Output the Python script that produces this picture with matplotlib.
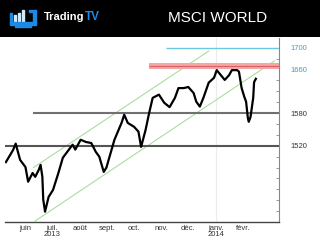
import matplotlib
matplotlib.use("Agg")
import matplotlib.pyplot as plt
from matplotlib.patches import Rectangle
import pandas as pd

# price path
dates = ["2013-05-10", "2013-05-18", "2013-05-21", "2013-05-26", "2013-06-01", "2013-06-04",
         "2013-06-09", "2013-06-12", "2013-06-16", "2013-06-18", "2013-06-20", "2013-06-21",
         "2013-06-23", "2013-06-27", "2013-07-02", "2013-07-08", "2013-07-13", "2013-07-18",
         "2013-07-24", "2013-07-27", "2013-08-02", "2013-08-08", "2013-08-14", "2013-08-19",
         "2013-08-23", "2013-08-28", "2013-08-31", "2013-09-09", "2013-09-17", "2013-09-20",
         "2013-09-24", "2013-10-01", "2013-10-06", "2013-10-09", "2013-10-14", "2013-10-18",
         "2013-10-22", "2013-10-29", "2013-11-04", "2013-11-10", "2013-11-16", "2013-11-20",
         "2013-11-26", "2013-12-01", "2013-12-07", "2013-12-10", "2013-12-14", "2013-12-18",
         "2013-12-24", "2013-12-30", "2014-01-02", "2014-01-08", "2014-01-11", "2014-01-16",
         "2014-01-19", "2014-01-25", "2014-01-27", "2014-01-30", "2014-02-02", "2014-02-04",
         "2014-02-06", "2014-02-07", "2014-02-09", "2014-02-12", "2014-02-13", "2014-02-15"]
closes = [1490, 1512, 1524, 1494, 1481, 1454,
          1470, 1463, 1476, 1485, 1463, 1421,
          1399, 1426, 1439, 1470, 1498, 1509,
          1522, 1513, 1531, 1527, 1525, 1509,
          1500, 1472, 1480, 1531, 1562, 1577,
          1562, 1555, 1546, 1518, 1549, 1580,
          1608, 1614, 1599, 1591, 1608, 1626,
          1626, 1628, 1617, 1601, 1592, 1608,
          1636, 1645, 1659, 1647, 1641, 1650,
          1659, 1659, 1656, 1626, 1610, 1601,
          1571, 1564, 1573, 1608, 1637, 1643]

# trend channel (two parallel green lines)
upper_dates = ["2013-06-10", "2013-12-24"]
upper_values = [1480, 1694]
lower_dates = ["2013-06-12", "2014-03-08"]
lower_values = [1382, 1676]

# horizontal levels: value, start date
level_1700 = (1700, "2013-11-06")
level_1660 = (1667, "2013-10-18")
level_1580 = (1580, "2013-06-09")
level_1520 = (1520, "2013-05-09")
label_levels = [1700, 1660, 1580, 1520]
label_colors = ["#3b9fc6", "#3b9fc6", "#333333", "#333333"]

month_ticks = ["2013-06-01", "2013-07-01", "2013-08-01", "2013-09-01", "2013-10-01",
               "2013-11-01", "2013-12-01", "2014-01-01", "2014-02-01"]
month_labels = ["juin", "juil.\n2013", "août", "sept.", "oct.", "nov.", "déc.", "janv.\n2014", "févr."]

plt.rcParams['font.family'] = ['Liberation Sans', 'DejaVu Sans']

fig = plt.figure(figsize=(3.2, 2.4), dpi=100)
fig.patch.set_facecolor("white")

# header band with logo
hd = fig.add_axes([0, 1 - 37 / 240, 1, 37 / 240])
hd.set_facecolor("black")
hd.set_xlim(0, 320)
hd.set_ylim(37, 0)
hd.axis("off")
hd.add_patch(Rectangle((0, 0), 320, 37, color="black"))
blue = "#1e88e5"
light = "#cfe8fb"
hd.add_patch(Rectangle((10, 13), 2, 10, color=blue))
for x0, top in [(13.5, 15), (17.5, 12.5), (21.5, 10)]:
    hd.add_patch(Rectangle((x0, top), 2.5, 22 - top, color=light))
hd.add_patch(Rectangle((33, 10), 3, 13, color=blue))
hd.add_patch(Rectangle((29, 10), 4, 2, color=blue))
hd.add_patch(Rectangle((10, 22), 26, 2.5, color=blue))
hd.add_patch(Rectangle((15, 24.5), 16, 2.5, color=blue))
t = hd.text(44, 20.5, "Trading", color="white", fontsize=8, fontweight="bold",
            va="baseline", ha="left")
hd.annotate("TV", xy=(1, 20.5), xycoords=(t, "data"), color=blue, fontsize=8.5,
            fontweight="bold", va="baseline", ha="left")
hd.text(218, 18, "MSCI WORLD", color="white", fontsize=11, va="center", ha="center")

ax = fig.add_axes([5 / 320, 18 / 240, 274 / 320, 184 / 240])
d = pd.to_datetime(dates)
xmin, xmax = pd.Timestamp("2013-05-09"), pd.Timestamp("2014-03-13")
ax.set_xlim(xmin, xmax)
ax.set_ylim(1380, 1718)

ax.axvline(pd.Timestamp("2014-01-01"), color="#ececec", lw=0.8, zorder=0)

ax.plot(pd.to_datetime(upper_dates), upper_values, color="#a6e09a", lw=0.8, zorder=1)
ax.plot(pd.to_datetime(lower_dates), lower_values, color="#a6e09a", lw=0.8, zorder=1)

ax.hlines(level_1700[0], pd.Timestamp(level_1700[1]), xmax, color="#6cc8e0", lw=1.0, zorder=1)
ax.fill_between([pd.Timestamp(level_1660[1]), xmax], level_1660[0] - 5.5, level_1660[0] + 5.5,
                color="#f2a6a6", lw=0, zorder=1)
ax.hlines(level_1660[0], pd.Timestamp(level_1660[1]), xmax, color="#d86060", lw=0.8, zorder=1)
ax.hlines(level_1580[0], pd.Timestamp(level_1580[1]), xmax, color="#707070", lw=1.5, zorder=1)
ax.hlines(level_1520[0], pd.Timestamp(level_1520[1]), xmax, color="#555555", lw=1.5, zorder=1)

ax.plot(d, closes, color="black", lw=1.6, zorder=3)

for s in ["left", "top"]:
    ax.spines[s].set_visible(False)
ax.spines["bottom"].set_color("#444444")
ax.spines["bottom"].set_linewidth(1.0)
ax.spines["right"].set_color("#888888")
ax.spines["right"].set_linewidth(0.8)

ax.set_xticks(pd.to_datetime(month_ticks))
ax.set_xticklabels(month_labels, fontsize=5.5, color="#333333", linespacing=0.85)
ax.tick_params(axis="x", length=0, pad=2)

ax.yaxis.tick_right()
ax.set_yticks(label_levels)
ax.set_yticklabels([str(v) for v in label_levels], fontsize=5.5)
for lbl, c in zip(ax.get_yticklabels(), label_colors):
    lbl.set_color(c)
ax.set_yticks(list(range(1400, 1720, 20)), minor=True)
ax.tick_params(axis="y", which="major", length=0, pad=8)
ax.tick_params(axis="y", which="minor", length=2, direction="in", color="#888888", width=0.6)

fig.savefig("out.png", dpi=100)
